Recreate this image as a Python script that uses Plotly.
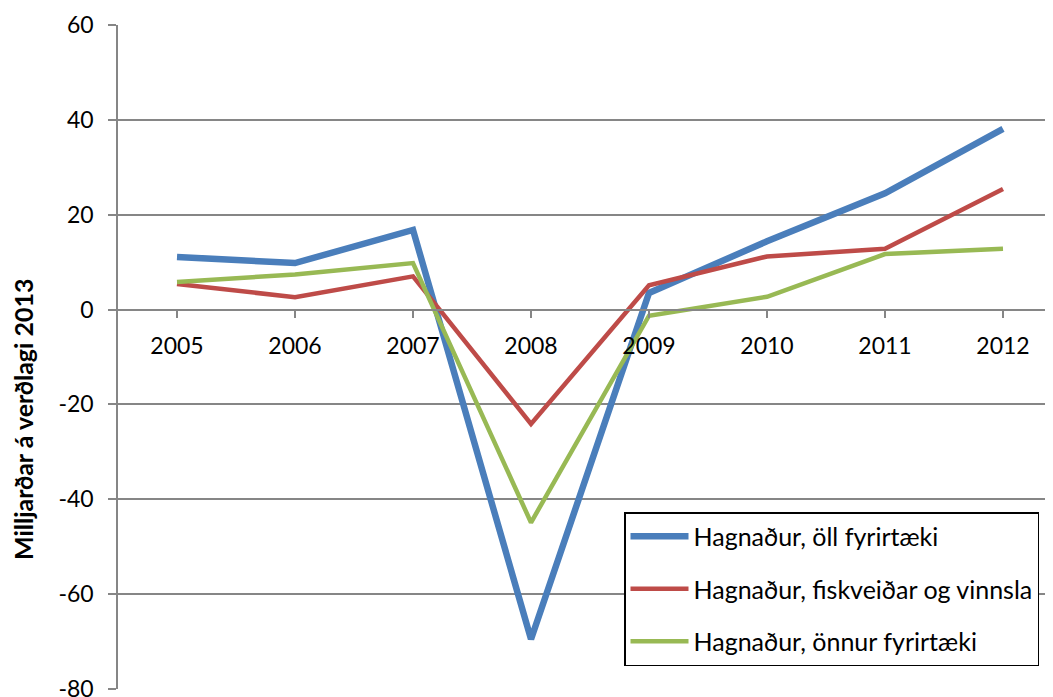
import plotly.graph_objects as go

years = ["2005", "2006", "2007", "2008", "2009", "2010", "2011", "2012"]
oll = [11.1, 9.8, 16.8, -69.5, 3.5, 14.4, 24.5, 38.1]
fisk = [5.4, 2.6, 7.0, -24.1, 5.1, 11.2, 12.8, 25.4]
onnur = [5.8, 7.4, 9.8, -44.9, -1.3, 2.7, 11.7, 12.8]
names = ["Hagnaður, öll fyrirtæki", "Hagnaður, fiskveiðar og vinnsla", "Hagnaður, önnur fyrirtæki"]
y_ticks = [-80, -60, -40, -20, 0, 20, 40, 60]
y_ticktext = ["-80", "-60", "-40", "-20", "0", "20", "40", "60"]
y_title = "Milljarðar á verðlagi 2013"

FONT = "Lato"
colors = ["#4A7EBB", "#BE4B48", "#98B954"]
widths = [6.5, 4.5, 4.5]

fig = go.Figure()
for i, (vals, nm) in enumerate(zip([oll, fisk, onnur], names)):
    fig.add_trace(go.Scatter(
        x=list(range(len(years))), y=vals, name=nm, mode="lines",
        line=dict(color=colors[i], width=widths[i]),
        legendgroup=f"g{i}",
    ))

# page body has an 8px margin; compensate
OFF = 8
W, H = 1053 - OFF, 697 - OFF
L, R, T, B = 118 - OFF, 0, 25 - OFF, 8
pw = W - L - R
ph = H - T - B

def px_x(ax):  # absolute pixel -> paper
    return (ax - OFF - L) / pw

def px_y(ay):
    return (H - B - (ay - OFF)) / ph

fig.update_layout(
    width=W, height=H,
    margin=dict(l=L, r=R, t=T, b=B, autoexpand=False),
    paper_bgcolor="white", plot_bgcolor="white",
    font=dict(family=FONT, size=23, color="black"),
    showlegend=True,
    legend=dict(
        x=px_x(624), y=px_y(512), xanchor="left", yanchor="top",
        bordercolor="black", borderwidth=1.5, bgcolor="white",
        font=dict(family=FONT, size=25, color="black"),
        traceorder="grouped", tracegroupgap=17,
        itemwidth=58,
    ),
    xaxis=dict(
        range=[-0.5, -0.5 + pw / 118],
        tickmode="array", tickvals=list(range(len(years))), ticktext=years,
        showgrid=False, zeroline=False,
        showline=True, linecolor="#868686", linewidth=1.5,
        ticks="outside", tickson="boundaries", ticklen=8, tickcolor="#868686", tickwidth=1.5,
        anchor="free", position=80 / 140,
        ticklabelstandoff=8,
    ),
    yaxis=dict(
        range=[-80, 60], tickvals=y_ticks, ticktext=y_ticktext,
        showgrid=True, gridcolor="#868686", gridwidth=1.5,
        zeroline=False,
        showline=True, linecolor="#868686", linewidth=1.5,
        ticks="outside", ticklen=8, tickcolor="#868686", tickwidth=1.5,
        ticklabelstandoff=10, ticklabeloverflow="allow",
    ),
    annotations=[dict(
        text=f"<b>{y_title}</b>", textangle=-90,
        xref="paper", yref="paper",
        x=px_x(23), y=px_y(419),
        xanchor="center", yanchor="middle", showarrow=False,
        font=dict(family=FONT, size=25, color="black"),
    )],
)

fig.write_html("out.html")
